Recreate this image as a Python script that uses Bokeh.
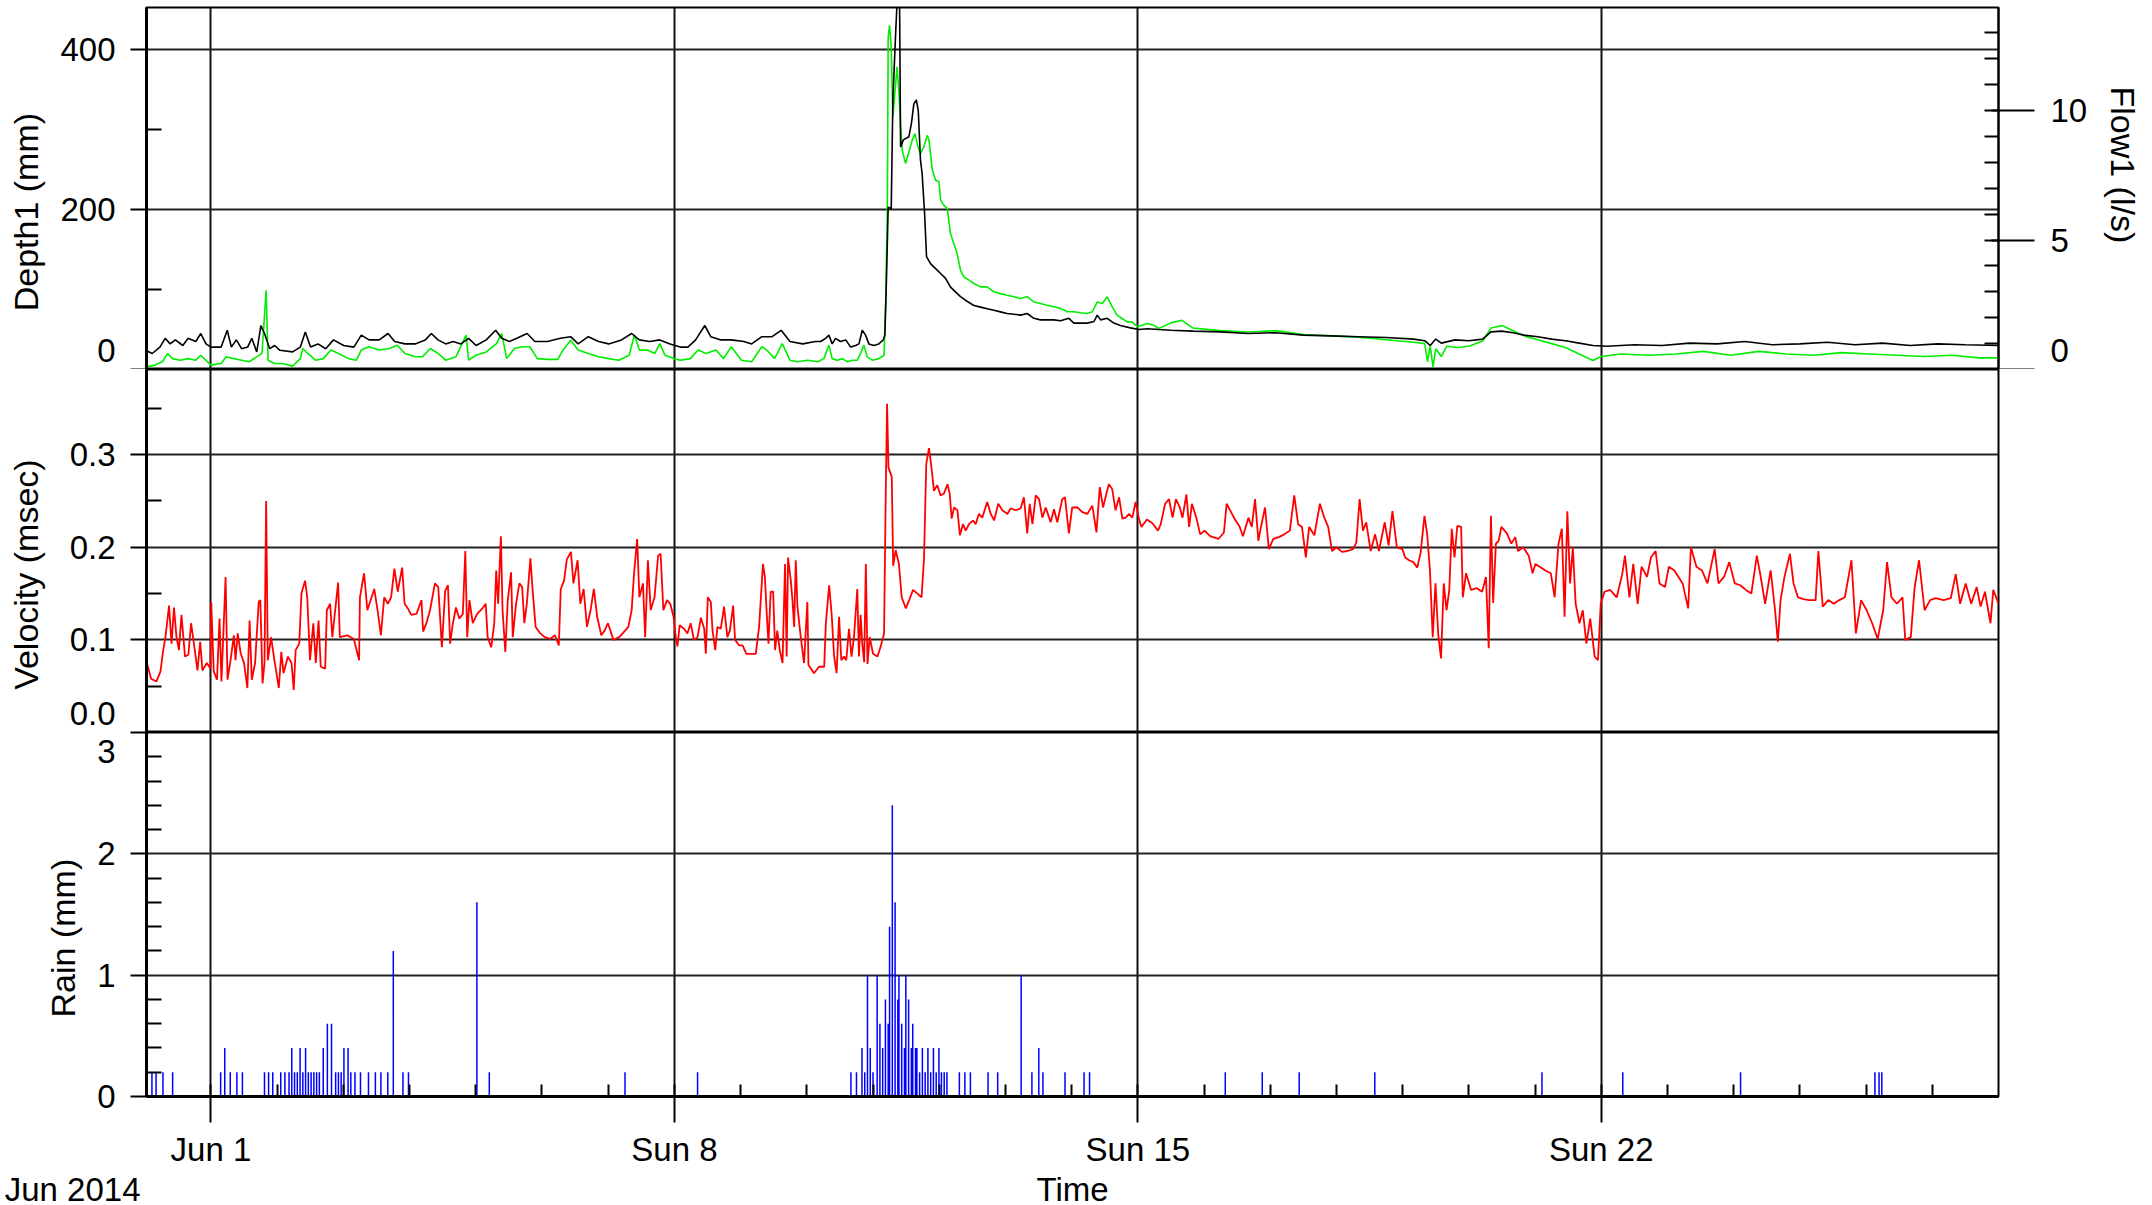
import pandas as pd
from bokeh.plotting import figure
from bokeh.models import Range1d, LinearAxis, FixedTicker, Label
from bokeh.layouts import column
from bokeh.embed import file_html
from bokeh.resources import INLINE

# ---------------- data (hours since 2014-05-31 00:00, value) ----------------
START = pd.Timestamp("2014-05-31 00:00")
X_FIRST_HOUR = 0.63
X_LAST_HOUR = 672.0

week_days = ["2014-06-01", "2014-06-08", "2014-06-15", "2014-06-22"]
week_labels = ["Jun 1", "Sun 8", "Sun 15", "Sun 22"]
month_label = "Jun 2014"
time_label = "Time"

depth_ticks = [0, 200, 400]
depth_minor = [100, 300]
flow_ticks = [0, 5, 10]
flow_minor = list(range(0, 15))
vel_ticks = [0.0, 0.1, 0.2, 0.3]
vel_minor = [0.05, 0.15, 0.25, 0.35]
rain_ticks = [0, 1, 2, 3]
rain_minor = [0.2, 0.4, 0.6, 0.8, 1.2, 1.4, 1.6, 1.8, 2.2, 2.4, 2.6, 2.8]

depth_points = [
    (0.3, 24), (2.7, 20), (5.5, 28), (7.4, 39), (9.2, 32), (11.1, 37), (13.8, 30), (15.7, 39),
    (18.5, 35), (20.3, 45), (22.2, 32), (24.0, 28), (27.7, 28), (29.9, 49), (31.4, 28), (33.2, 37),
    (35.1, 26), (37.3, 28), (38.8, 39), (40.6, 22), (42.1, 55), (43.4, 45), (45.3, 26), (47.1, 30),
    (49.0, 24), (53.6, 22), (56.4, 28), (58.2, 47), (60.1, 28), (62.8, 32), (65.6, 26), (68.4, 37),
    (72.1, 30), (75.8, 28), (78.5, 43), (81.3, 37), (85.0, 37), (88.2, 45), (90.6, 35), (94.3, 32),
    (98.0, 32), (101.7, 37), (103.9, 45), (106.3, 37), (109.1, 32), (111.8, 35), (114.6, 32),
    (117.4, 39), (120.1, 30), (123.8, 37), (127.2, 49), (129.4, 39), (132.2, 35), (134.9, 39),
    (138.6, 45), (141.4, 35), (146.0, 35), (150.7, 39), (154.4, 41), (157.1, 32), (160.8, 41),
    (164.5, 35), (168.2, 32), (172.8, 37), (176.5, 45), (179.3, 37), (183.0, 35), (186.7, 37),
    (190.4, 32), (194.1, 28), (196.9, 28), (199.7, 37), (203.0, 55), (205.2, 41), (208.9, 37),
    (212.6, 37), (217.2, 35), (220.0, 32), (223.7, 41), (227.4, 41), (230.7, 49), (233.9, 35),
    (238.5, 32), (243.1, 35), (245.0, 35), (246.8, 39), (248.0, 43), (249.2, 32), (250.4, 39),
    (252.2, 35), (254.1, 37), (255.9, 28), (257.7, 30), (258.9, 32), (260.1, 49), (261.3, 43),
    (262.5, 32), (264.3, 30), (266.1, 32), (267.7, 37), (268.3, 43), (268.9, 116), (269.5, 203),
    (270.6, 201), (271.2, 337), (272.2, 420), (273.0, 480), (273.6, 470), (274.0, 278), (275.0, 287),
    (277.0, 291), (277.9, 307), (278.8, 332), (279.7, 337), (280.4, 324), (281.2, 262), (281.8, 245),
    (282.7, 195), (283.4, 141), (284.9, 132), (286.7, 126), (288.5, 120), (290.3, 114), (292.1, 103),
    (293.9, 97), (295.7, 91), (298.2, 85), (300.6, 80), (303.0, 78), (305.4, 76), (307.8, 74),
    (310.2, 72), (312.6, 70), (315.1, 69), (317.5, 68), (319.9, 70), (322.3, 64), (324.7, 62),
    (327.1, 62), (329.6, 62), (332.0, 61), (335.0, 64), (336.8, 58), (339.2, 58), (341.6, 58),
    (344.1, 60), (345.3, 68), (346.5, 62), (348.9, 64), (351.3, 58), (353.7, 55), (357.3, 52),
    (360.4, 50), (363.4, 51), (367.6, 50), (372, 49), (380, 48), (390, 47), (400, 45), (410, 46),
    (420, 43), (430, 42), (440, 41), (450, 40), (460, 38), (464, 36), (466, 30), (468, 38), (470, 33),
    (475, 37), (480, 36), (485, 38), (488, 47), (492, 48), (496, 46), (500, 43), (505, 41), (510, 38),
    (515, 36), (520, 33), (525, 30), (530, 29), (540, 31), (550, 30), (560, 33), (570, 32), (580, 35),
    (590, 31), (600, 32), (610, 34), (620, 31), (630, 33), (640, 30), (650, 32), (660, 31), (672, 30),
]

flow_points = [
    (0.3, 0.10), (3.7, 0.17), (6.4, 0.30), (8.3, 0.62), (10.1, 0.42), (12.9, 0.36), (15.7, 0.42),
    (18.5, 0.36), (20.3, 0.55), (24.0, 0.17), (27.7, 0.23), (29.5, 0.49), (32.3, 0.42), (35.1, 0.36),
    (37.9, 0.30), (40.6, 0.49), (42.5, 0.62), (44.0, 3.06), (44.7, 0.36), (47.1, 0.23), (49.9, 0.23),
    (53.6, 0.13), (56.4, 0.42), (57.3, 0.81), (59.1, 0.62), (61.9, 0.36), (64.7, 0.42), (67.5, 0.75),
    (70.2, 0.62), (73.9, 0.42), (76.7, 0.36), (78.5, 0.75), (81.3, 0.88), (85.0, 0.75), (88.7, 0.81),
    (91.5, 0.94), (94.3, 0.62), (98.0, 0.49), (100.7, 0.49), (103.5, 0.81), (106.3, 0.62),
    (109.1, 0.36), (112.8, 0.49), (116.5, 1.33), (117.4, 0.36), (120.1, 0.55), (123.8, 0.68),
    (127.5, 1.00), (129.4, 1.39), (131.2, 0.42), (134.0, 0.81), (136.8, 0.88), (139.6, 0.88),
    (142.3, 0.42), (146.0, 0.39), (149.7, 0.39), (151.6, 0.75), (154.4, 1.13), (157.1, 0.75),
    (160.8, 0.62), (164.5, 0.49), (168.2, 0.42), (171.9, 0.36), (175.6, 0.55), (177.5, 1.33),
    (179.3, 0.75), (182.1, 0.75), (184.9, 0.62), (186.7, 1.00), (188.6, 0.55), (191.9, 0.42),
    (194.1, 0.36), (197.8, 0.42), (200.6, 0.75), (203.4, 0.62), (207.1, 0.75), (209.8, 0.42),
    (212.6, 0.88), (216.3, 0.36), (220.0, 0.30), (223.7, 0.88), (225.5, 0.75), (228.3, 0.42),
    (231.1, 1.00), (233.9, 0.36), (236.6, 0.30), (240.3, 0.36), (244.0, 0.30), (245.0, 0.36),
    (246.2, 0.42), (248.0, 0.94), (249.2, 0.42), (251.0, 0.36), (252.9, 0.42), (254.7, 0.30),
    (256.5, 0.36), (258.3, 0.36), (259.5, 0.62), (260.7, 0.94), (261.9, 0.49), (263.7, 0.36),
    (266.1, 0.42), (268.0, 0.55), (268.6, 2.68), (269.2, 6.28), (269.5, 12.84), (270.0, 13.29),
    (270.6, 12.46), (271.2, 9.76), (272.7, 11.69), (273.4, 10.66), (274.0, 9.37), (274.6, 8.47),
    (275.8, 7.95), (277.0, 8.40), (278.2, 8.85), (279.2, 9.11), (280.3, 8.60), (281.2, 8.34),
    (282.4, 8.60), (283.7, 9.05), (284.3, 8.85), (285.5, 7.70), (286.7, 7.31), (287.9, 7.25),
    (288.5, 6.54), (289.7, 6.34), (290.9, 6.22), (292.1, 5.25), (293.3, 4.86), (294.5, 4.48),
    (295.7, 3.84), (296.9, 3.58), (298.8, 3.45), (300.6, 3.32), (303.0, 3.19), (305.4, 3.19),
    (307.8, 3.00), (310.2, 2.93), (312.6, 2.87), (315.1, 2.81), (317.5, 2.74), (319.9, 2.81),
    (322.3, 2.61), (324.7, 2.55), (327.1, 2.48), (329.6, 2.42), (332.0, 2.36), (334.4, 2.23),
    (336.8, 2.23), (339.2, 2.19), (341.6, 2.16), (343.5, 2.23), (345.3, 2.61), (347.1, 2.55),
    (348.9, 2.81), (350.7, 2.42), (352.5, 2.10), (354.3, 1.97), (356.1, 1.84), (357.9, 1.84),
    (359.8, 1.65), (361.6, 1.71), (363.4, 1.78), (365.8, 1.71), (367.6, 1.58), (372, 1.8), (376, 1.9),
    (380, 1.6), (390, 1.5), (400, 1.45), (410, 1.5), (420, 1.35), (430, 1.3), (440, 1.25), (450, 1.15),
    (460, 1.05), (464, 1.0), (465, 0.3), (466, 0.9), (467, 0.1), (468, 0.8), (470, 0.5), (472, 0.9),
    (476, 0.85), (480, 0.9), (485, 1.1), (488, 1.6), (492, 1.7), (496, 1.5), (500, 1.3), (505, 1.15),
    (510, 1.0), (515, 0.85), (520, 0.6), (525, 0.35), (528, 0.5), (535, 0.6), (545, 0.55), (555, 0.6),
    (565, 0.7), (575, 0.55), (585, 0.7), (595, 0.6), (605, 0.55), (615, 0.65), (625, 0.6), (635, 0.55),
    (645, 0.5), (655, 0.55), (665, 0.45), (672, 0.45),
]

velocity_points = [
    (0.5, 0.078), (2.3, 0.058), (4.2, 0.055), (5.7, 0.066), (6.6, 0.087), (7.5, 0.103), (8.8, 0.137),
    (9.7, 0.096), (10.6, 0.135), (11.5, 0.103), (12.4, 0.089), (13.3, 0.127), (14.6, 0.082),
    (15.8, 0.084), (16.8, 0.118), (18.0, 0.092), (19.1, 0.067), (20.1, 0.098), (20.9, 0.067),
    (22.5, 0.075), (23.8, 0.069), (24.1, 0.141), (25.0, 0.066), (26.2, 0.057), (27.1, 0.123),
    (27.8, 0.055), (29.3, 0.168), (30.0, 0.057), (31.1, 0.078), (32.3, 0.105), (32.9, 0.078),
    (33.7, 0.107), (34.8, 0.085), (36.0, 0.075), (37.2, 0.048), (38.0, 0.121), (38.8, 0.057),
    (40.0, 0.075), (41.3, 0.141), (41.9, 0.143), (42.7, 0.053), (43.4, 0.075), (44.0, 0.250),
    (44.6, 0.078), (45.8, 0.103), (47.0, 0.078), (48.6, 0.048), (49.5, 0.087), (50.3, 0.064),
    (51.9, 0.082), (53.2, 0.075), (54.0, 0.046), (54.7, 0.089), (56.0, 0.096), (56.8, 0.150),
    (58.1, 0.164), (58.9, 0.146), (59.9, 0.078), (61.1, 0.118), (62.0, 0.075), (63.0, 0.121),
    (63.8, 0.071), (65.4, 0.069), (66.0, 0.132), (67.2, 0.139), (68.0, 0.103), (69.1, 0.134),
    (70.1, 0.162), (70.7, 0.103), (73.4, 0.105), (75.8, 0.101), (77.7, 0.078), (78.0, 0.146),
    (79.5, 0.172), (80.7, 0.132), (81.9, 0.143), (83.2, 0.155), (84.4, 0.132), (85.6, 0.105),
    (86.8, 0.146), (88.1, 0.139), (89.3, 0.146), (90.5, 0.177), (91.7, 0.152), (93.3, 0.178),
    (94.2, 0.139), (95.4, 0.134), (96.6, 0.127), (98.5, 0.128), (100.3, 0.143), (100.9, 0.109),
    (102.2, 0.119), (103.4, 0.132), (105.2, 0.161), (106.4, 0.157), (107.7, 0.092), (108.9, 0.153),
    (109.9, 0.159), (110.7, 0.096), (111.6, 0.116), (112.8, 0.135), (114.0, 0.123), (115.3, 0.128),
    (116.2, 0.196), (116.9, 0.103), (117.7, 0.143), (118.9, 0.118), (120.5, 0.128), (122.4, 0.134),
    (123.6, 0.139), (124.3, 0.103), (125.6, 0.092), (126.7, 0.118), (127.4, 0.175), (128.1, 0.139),
    (129.1, 0.212), (129.7, 0.132), (130.7, 0.087), (131.6, 0.143), (132.8, 0.173), (133.4, 0.103),
    (134.6, 0.139), (135.8, 0.161), (136.8, 0.157), (137.6, 0.118), (138.5, 0.139), (139.8, 0.188),
    (140.7, 0.150), (141.7, 0.114), (143.4, 0.107), (145.0, 0.103), (146.9, 0.101), (148.7, 0.105),
    (150.1, 0.094), (150.8, 0.155), (152.0, 0.164), (153.0, 0.187), (154.5, 0.195), (155.4, 0.161),
    (156.9, 0.186), (157.9, 0.139), (159.1, 0.155), (160.3, 0.114), (161.6, 0.132), (162.8, 0.155),
    (164.0, 0.125), (165.5, 0.105), (166.7, 0.110), (167.9, 0.118), (169.9, 0.100), (172.0, 0.103),
    (173.8, 0.109), (175.3, 0.114), (176.5, 0.132), (177.4, 0.173), (178.5, 0.209), (179.3, 0.146),
    (180.6, 0.161), (181.4, 0.103), (182.4, 0.186), (183.4, 0.132), (184.8, 0.146), (186.1, 0.191),
    (187.0, 0.193), (188.0, 0.132), (189.3, 0.143), (190.5, 0.139), (191.7, 0.125),
    (192.5, 0.103), (193.1, 0.093), (193.9, 0.116), (195.5, 0.112), (196.7, 0.107), (197.9, 0.118),
    (199.1, 0.100), (200.4, 0.103), (201.6, 0.124), (202.8, 0.112), (203.4, 0.085), (204.1, 0.146),
    (205.2, 0.141), (205.8, 0.111), (206.8, 0.089), (207.6, 0.114), (208.8, 0.112), (210.0, 0.136),
    (211.2, 0.103), (212.1, 0.110), (213.3, 0.137), (214.0, 0.100), (215.5, 0.094), (216.7, 0.094),
    (218.1, 0.085), (219.7, 0.085), (221.5, 0.085), (222.7, 0.114), (224.1, 0.182), (224.8, 0.168),
    (225.4, 0.132), (226.1, 0.096), (226.9, 0.152), (227.8, 0.152), (228.5, 0.089), (229.3, 0.110),
    (230.2, 0.089), (231.2, 0.075), (232.1, 0.182), (232.7, 0.082), (233.2, 0.189), (234.2, 0.164),
    (234.8, 0.143), (235.4, 0.114), (236.0, 0.186), (236.6, 0.136), (237.8, 0.103), (239.0, 0.075),
    (240.2, 0.141), (240.6, 0.073), (242.6, 0.064), (244.4, 0.071), (246.3, 0.071), (246.9, 0.118),
    (248.1, 0.159), (249.0, 0.128), (249.9, 0.082), (250.8, 0.064), (251.7, 0.125), (252.5, 0.078),
    (253.5, 0.082), (254.3, 0.078), (255.3, 0.112), (256.2, 0.082), (257.1, 0.103), (258.3, 0.155),
    (258.9, 0.082), (259.5, 0.127), (260.1, 0.096), (260.8, 0.076), (261.4, 0.182), (262.0, 0.074),
    (262.8, 0.103), (264.0, 0.085), (265.6, 0.082), (266.8, 0.093), (268.0, 0.107), (268.6, 0.254),
    (269.1, 0.355), (269.6, 0.286), (270.8, 0.276), (271.3, 0.180), (272.2, 0.197), (273.4, 0.182),
    (274.4, 0.146), (275.9, 0.134), (277.1, 0.143), (278.5, 0.154), (280.1, 0.150), (281.6, 0.146),
    (282.5, 0.189), (283.3, 0.290), (284.3, 0.307), (285.3, 0.283), (286.1, 0.261), (287.3, 0.267),
    (288.5, 0.256), (289.7, 0.258), (291.0, 0.268), (291.8, 0.258), (292.5, 0.231), (293.4, 0.243),
    (294.6, 0.240), (295.5, 0.213), (296.6, 0.225), (297.6, 0.218), (298.8, 0.225), (300.3, 0.229),
    (301.2, 0.225), (302.4, 0.236), (303.6, 0.232), (305.4, 0.249), (306.7, 0.236), (307.9, 0.229),
    (309.4, 0.247), (310.9, 0.240), (312.7, 0.236), (313.9, 0.242), (315.7, 0.240), (317.5, 0.242),
    (318.7, 0.254), (319.9, 0.215), (320.8, 0.247), (321.8, 0.225), (323.0, 0.256), (324.2, 0.252),
    (325.4, 0.232), (326.6, 0.243), (328.4, 0.227), (329.6, 0.241), (330.8, 0.227), (332.6, 0.252),
    (333.6, 0.254), (335.0, 0.215), (336.2, 0.243), (338.1, 0.243), (339.9, 0.238), (341.7, 0.236),
    (343.5, 0.245), (345.0, 0.216), (346.2, 0.265), (347.4, 0.243), (348.6, 0.258), (349.5, 0.268),
    (350.7, 0.263), (351.9, 0.240), (353.2, 0.254), (354.4, 0.231), (355.6, 0.232), (356.8, 0.236),
    (358.0, 0.232), (359.2, 0.249), (360.3, 0.232), (361.3, 0.222), (363.3, 0.230), (365.3, 0.226),
    (367.3, 0.218), (368.3, 0.225), (369.9, 0.247), (371.3, 0.252), (372.6, 0.232), (373.8, 0.252),
    (375.2, 0.243), (376.2, 0.232), (377.6, 0.257), (378.6, 0.222), (379.6, 0.247), (381.2, 0.232),
    (382.6, 0.214), (384.2, 0.218), (386.2, 0.212), (389.2, 0.209), (391.2, 0.216), (392.2, 0.247),
    (393.8, 0.238), (395.2, 0.230), (396.8, 0.223), (398.1, 0.212), (400.1, 0.232), (401.3, 0.222),
    (402.5, 0.252), (403.7, 0.207), (404.5, 0.220), (406.1, 0.243), (407.5, 0.198), (409.1, 0.209),
    (411.1, 0.211), (413.1, 0.214), (415.1, 0.218), (416.7, 0.256), (418.1, 0.225), (419.5, 0.222),
    (420.9, 0.189), (422.1, 0.222), (424.0, 0.213), (426.0, 0.247), (427.6, 0.232), (429.0, 0.222),
    (430.4, 0.196), (432.0, 0.200), (434.0, 0.195), (436.0, 0.196), (438.0, 0.198), (439.2, 0.205),
    (440.4, 0.252), (441.6, 0.218), (442.8, 0.227), (444.4, 0.196), (446.0, 0.214), (447.4, 0.196),
    (449.5, 0.227), (450.9, 0.202), (452.3, 0.239), (453.9, 0.200), (455.9, 0.198), (456.9, 0.189),
    (458.3, 0.186), (459.9, 0.184), (461.3, 0.178), (462.5, 0.194), (463.9, 0.234), (464.9, 0.214),
    (465.9, 0.175), (466.9, 0.103), (467.9, 0.161), (468.9, 0.106), (469.9, 0.080), (470.9, 0.161),
    (471.9, 0.132), (472.9, 0.154), (473.8, 0.220), (474.8, 0.189), (475.8, 0.223), (477.2, 0.222),
    (477.8, 0.146), (479.0, 0.172), (480.8, 0.154), (482.8, 0.156), (484.8, 0.152), (486.2, 0.168),
    (487.2, 0.091), (488.0, 0.234), (488.8, 0.140), (489.8, 0.204), (490.8, 0.207), (491.8, 0.222),
    (493.8, 0.215), (495.4, 0.204), (496.8, 0.211), (497.8, 0.196), (499.7, 0.200), (501.7, 0.191),
    (503.1, 0.172), (504.1, 0.182), (505.7, 0.179), (507.7, 0.175), (509.7, 0.172), (511.1, 0.146),
    (512.5, 0.204), (513.7, 0.220), (514.7, 0.125), (515.7, 0.239), (516.7, 0.161), (517.7, 0.200),
    (518.7, 0.139), (520.1, 0.118), (521.3, 0.132), (522.6, 0.096), (524.0, 0.123), (525.6, 0.082),
    (526.8, 0.078), (527.8, 0.139), (529.2, 0.152), (531.2, 0.154), (533.6, 0.146), (535.6, 0.171),
    (536.6, 0.191), (538.2, 0.146), (539.6, 0.182), (541.2, 0.139), (542.6, 0.179), (544.6, 0.168),
    (546.0, 0.189), (547.7, 0.196), (549.1, 0.161), (551.1, 0.157), (552.5, 0.179), (554.5, 0.175),
    (557.5, 0.161), (559.5, 0.134), (560.5, 0.200), (562.5, 0.179), (564.5, 0.175), (566.5, 0.161),
    (569.1, 0.198), (570.5, 0.161), (572.5, 0.168), (574.4, 0.184), (576.4, 0.161), (578.4, 0.159),
    (580.4, 0.154), (582.4, 0.150), (584.4, 0.191), (585.8, 0.168), (587.4, 0.139), (589.4, 0.175),
    (591.0, 0.132), (592.0, 0.098), (593.0, 0.143), (594.4, 0.168), (596.4, 0.193), (597.7, 0.161),
    (599.3, 0.146), (601.3, 0.144), (603.3, 0.143), (605.7, 0.143), (606.7, 0.196), (608.3, 0.136),
    (610.3, 0.143), (612.3, 0.139), (614.3, 0.143), (616.3, 0.146), (618.7, 0.186), (620.3, 0.107),
    (622.2, 0.143), (624.2, 0.132), (626.2, 0.118), (628.2, 0.101), (630.2, 0.132), (631.6, 0.184),
    (633.2, 0.146), (635.2, 0.139), (637.2, 0.146), (638.2, 0.100), (640.2, 0.103), (641.6, 0.157),
    (643.2, 0.186), (645.2, 0.132), (647.2, 0.143), (649.2, 0.145), (652.1, 0.143), (654.7, 0.145),
    (656.5, 0.171), (658.1, 0.139), (660.1, 0.161), (662.1, 0.139), (664.1, 0.157), (665.5, 0.136),
    (667.1, 0.152), (669.1, 0.118), (670.1, 0.154), (672.0, 0.139),
]

rain_points = [
    (2.6, 0.2), (4.1, 0.2), (6.6, 0.2), (10.1, 0.2), (27.5, 0.2), (29.0, 0.4), (31.0, 0.2),
    (33.4, 0.2), (35.4, 0.2), (43.4, 0.2), (44.9, 0.2), (46.4, 0.2), (49.3, 0.2), (50.8, 0.2),
    (52.3, 0.2), (53.3, 0.4), (54.3, 0.2), (55.3, 0.2), (56.3, 0.4), (57.3, 0.2), (58.3, 0.4),
    (59.3, 0.2), (60.3, 0.2), (61.3, 0.2), (62.3, 0.2), (63.3, 0.2), (64.7, 0.4), (66.2, 0.6),
    (67.7, 0.6), (69.2, 0.2), (70.2, 0.2), (71.2, 0.2), (72.2, 0.4), (73.7, 0.4), (74.7, 0.2),
    (76.2, 0.2), (78.2, 0.2), (81.1, 0.2), (83.6, 0.2), (85.6, 0.2), (88.1, 0.2), (90.1, 1.2),
    (93.6, 0.2), (95.6, 0.2), (120.4, 1.6), (124.9, 0.2), (174.1, 0.2), (200.4, 0.2),
    (256.0, 0.2), (258.0, 0.2), (260.0, 0.4), (261.0, 0.2), (262.0, 1.0), (263.0, 0.4), (264.0, 0.2),
    (265.5, 1.0), (266.5, 0.6), (267.5, 0.4), (268.5, 0.8), (269.5, 0.6), (270.0, 1.4), (271.0, 2.4),
    (272.0, 1.6), (273.0, 0.8), (273.4, 1.0), (274.4, 0.6), (275.4, 0.4), (275.9, 1.0), (276.9, 0.8),
    (277.9, 0.4), (278.4, 0.6), (279.4, 0.4), (279.9, 0.4), (280.9, 0.2), (281.9, 0.4), (282.9, 0.2),
    (283.9, 0.4), (284.9, 0.2), (285.9, 0.4), (286.9, 0.2), (287.9, 0.4), (288.8, 0.2), (289.8, 0.2),
    (290.8, 0.2), (295.3, 0.2), (297.3, 0.2), (299.3, 0.2), (305.7, 0.2), (309.2, 0.2), (317.7, 1.0),
    (321.6, 0.2), (324.1, 0.4), (325.6, 0.2), (333.6, 0.2), (340.5, 0.2), (342.5, 0.2), (391.7, 0.2),
    (405.1, 0.2), (418.5, 0.2), (445.9, 0.2), (506.5, 0.2), (535.8, 0.2), (578.5, 0.2), (627.2, 0.2),
    (628.7, 0.2), (629.7, 0.2),
]

# ---------------- helpers ----------------
HOUR_MS = 3600000.0
START_MS = START.value / 1e6
FONT = "Liberation Sans"
FRAME_W = 1852
LEFT_B = 146
RIGHT_B = 150
NB = "\u00a0"
EDGE_LH = 0.02   # line height used to nudge the edge tick labels off the panel boundaries


def to_ms(h):
    return START_MS + h * HOUR_MS


week_ms = [pd.Timestamp(d).value / 1e6 for d in week_days]
day_ms = [pd.Timestamp("2014-06-01").value / 1e6 + i * 24 * HOUR_MS for i in range(0, 27)]

x_range = Range1d(to_ms(X_FIRST_HOUR), to_ms(X_LAST_HOUR))


def make_panel(frame_h, y_end, bottom=False, top_border=0):
    p = figure(x_range=x_range, y_range=Range1d(0, y_end), x_axis_type="datetime",
               x_axis_location="below" if bottom else None,
               frame_width=FRAME_W, frame_height=frame_h,
               min_border_left=LEFT_B, min_border_right=RIGHT_B,
               min_border_top=top_border, min_border_bottom=0,
               output_backend="svg", toolbar_location=None,
               background_fill_color="white", border_fill_color="white",
               outline_line_color="black", outline_line_width=2, outline_line_alpha=1.0)
    p.xgrid.ticker = FixedTicker(ticks=week_ms)
    p.xgrid.grid_line_color = "#111111"
    p.xgrid.grid_line_width = 2
    p.ygrid.grid_line_color = "#222222"
    p.ygrid.grid_line_width = 2
    return p


def style_axis(ax, label, ticks, minor, overrides=None, label_pad=5):
    ax.ticker = FixedTicker(ticks=ticks, minor_ticks=minor)
    ax.axis_label = label + NB * label_pad
    ax.axis_label_text_font = FONT
    ax.axis_label_text_font_size = "34px"
    ax.axis_label_text_font_style = "normal"
    ax.axis_label_text_color = "black"
    ax.axis_label_standoff = 12
    ax.major_label_text_font = FONT
    ax.major_label_text_font_size = "33px"
    ax.major_label_text_color = "black"
    ax.major_label_text_line_height = EDGE_LH
    ax.major_label_standoff = 15
    ax.major_tick_out = 16
    ax.major_tick_in = 0
    ax.minor_tick_in = 15
    ax.minor_tick_out = 0
    ax.axis_line_width = 3
    ax.axis_line_color = "black"
    ax.major_tick_line_width = 2
    ax.major_tick_line_color = "black"
    ax.minor_tick_line_width = 2
    ax.minor_tick_line_color = "black"
    if overrides:
        ax.major_label_overrides = overrides


# ---------------- depth / flow panel ----------------
p1 = make_panel(362, 452.5, top_border=7)
style_axis(p1.yaxis[0], "Depth1 (mm)", depth_ticks, depth_minor, {0: "0\n" + NB})
p1.extra_y_ranges = {"flow": Range1d(0, 13.98)}
rax = LinearAxis(y_range_name="flow")
style_axis(rax, "Flow1 (l/s)", flow_ticks, flow_minor, {0: "0\n" + NB})
rax.major_tick_out = 36
rax.major_tick_in = 7
rax.minor_tick_in = 14
rax.axis_line_width = 2
rax.major_label_standoff = 16
rax.axis_label_standoff = 14
p1.add_layout(rax, "right")

flow_x = [to_ms(h) for h, _ in flow_points]
flow_y = [v for _, v in flow_points]
depth_x = [to_ms(h) for h, _ in depth_points]
depth_y = [v for _, v in depth_points]
p1.line(flow_x, flow_y, color="#00ee00", line_width=1.6, y_range_name="flow")
p1.line(depth_x, depth_y, color="black", line_width=1.6)

# ---------------- velocity panel ----------------
p2 = make_panel(363, 0.392)
style_axis(p2.yaxis[0], "Velocity (msec)", vel_ticks, vel_minor, {0: "0.0\n" + NB})
p2.yaxis[0].axis_label_standoff = 22
vel_x = [to_ms(h) for h, _ in velocity_points]
vel_y = [v for _, v in velocity_points]
p2.line(vel_x, vel_y, color="#ff0000", line_width=1.8)

# ---------------- rain panel ----------------
p3 = make_panel(364, 3.0, bottom=True)
style_axis(p3.yaxis[0], "Rain (mm)", rain_ticks, rain_minor, {3: NB + "\n3"})
rain_x = [to_ms(X_FIRST_HOUR)]
rain_y = [0.0]
for h, v in rain_points:
    rain_x += [to_ms(h), to_ms(h), to_ms(h)]
    rain_y += [0.0, v, 0.0]
rain_x.append(to_ms(X_LAST_HOUR))
rain_y.append(0.0)
p3.line(rain_x, rain_y, color="#0000ff", line_width=1.5)

xa = p3.xaxis[0]
xa.ticker = FixedTicker(ticks=week_ms, minor_ticks=day_ms)
xa.major_label_overrides = {m: lab for m, lab in zip(week_ms, week_labels)}
xa.major_label_text_font = FONT
xa.major_label_text_font_size = "33px"
xa.major_label_text_color = "black"
xa.major_label_standoff = 8
xa.major_tick_out = 26
xa.major_tick_in = 0
xa.minor_tick_in = 12
xa.minor_tick_out = 0
xa.axis_line_width = 3
xa.axis_line_color = "black"
xa.major_tick_line_width = 2
xa.minor_tick_line_width = 2
xa.major_tick_line_color = "black"
xa.minor_tick_line_color = "black"

# ---------------- bottom text row ("Jun 2014" and "Time") ----------------
ROW_H = 37
p4 = figure(x_range=Range1d(0, 1), y_range=Range1d(0, 1),
            frame_width=FRAME_W, frame_height=ROW_H,
            min_border_left=LEFT_B, min_border_right=RIGHT_B, min_border_top=0, min_border_bottom=0,
            x_axis_location=None, y_axis_location="left",
            output_backend="svg", toolbar_location=None, outline_line_color=None)
p4.grid.visible = False
ya4 = p4.yaxis[0]
ya4.ticker = FixedTicker(ticks=[0.5])
ya4.major_label_overrides = {0.5: month_label}
ya4.major_label_text_font = FONT
ya4.major_label_text_font_size = "33px"
ya4.major_label_text_color = "black"
ya4.major_label_standoff = 6
ya4.major_tick_out = 0
ya4.major_tick_in = 0
ya4.axis_line_color = None
ya4.major_tick_line_color = None
ya4.minor_tick_line_color = None
p4.add_layout(Label(x=FRAME_W / 2, y=ROW_H / 2, x_units="screen", y_units="screen",
                    text=time_label, text_align="center", text_baseline="middle",
                    text_font=FONT, text_font_size="33px", text_color="black"))

layout = column(p1, p2, p3, p4, spacing=0)
open("out.html", "w").write(file_html(layout, INLINE))
